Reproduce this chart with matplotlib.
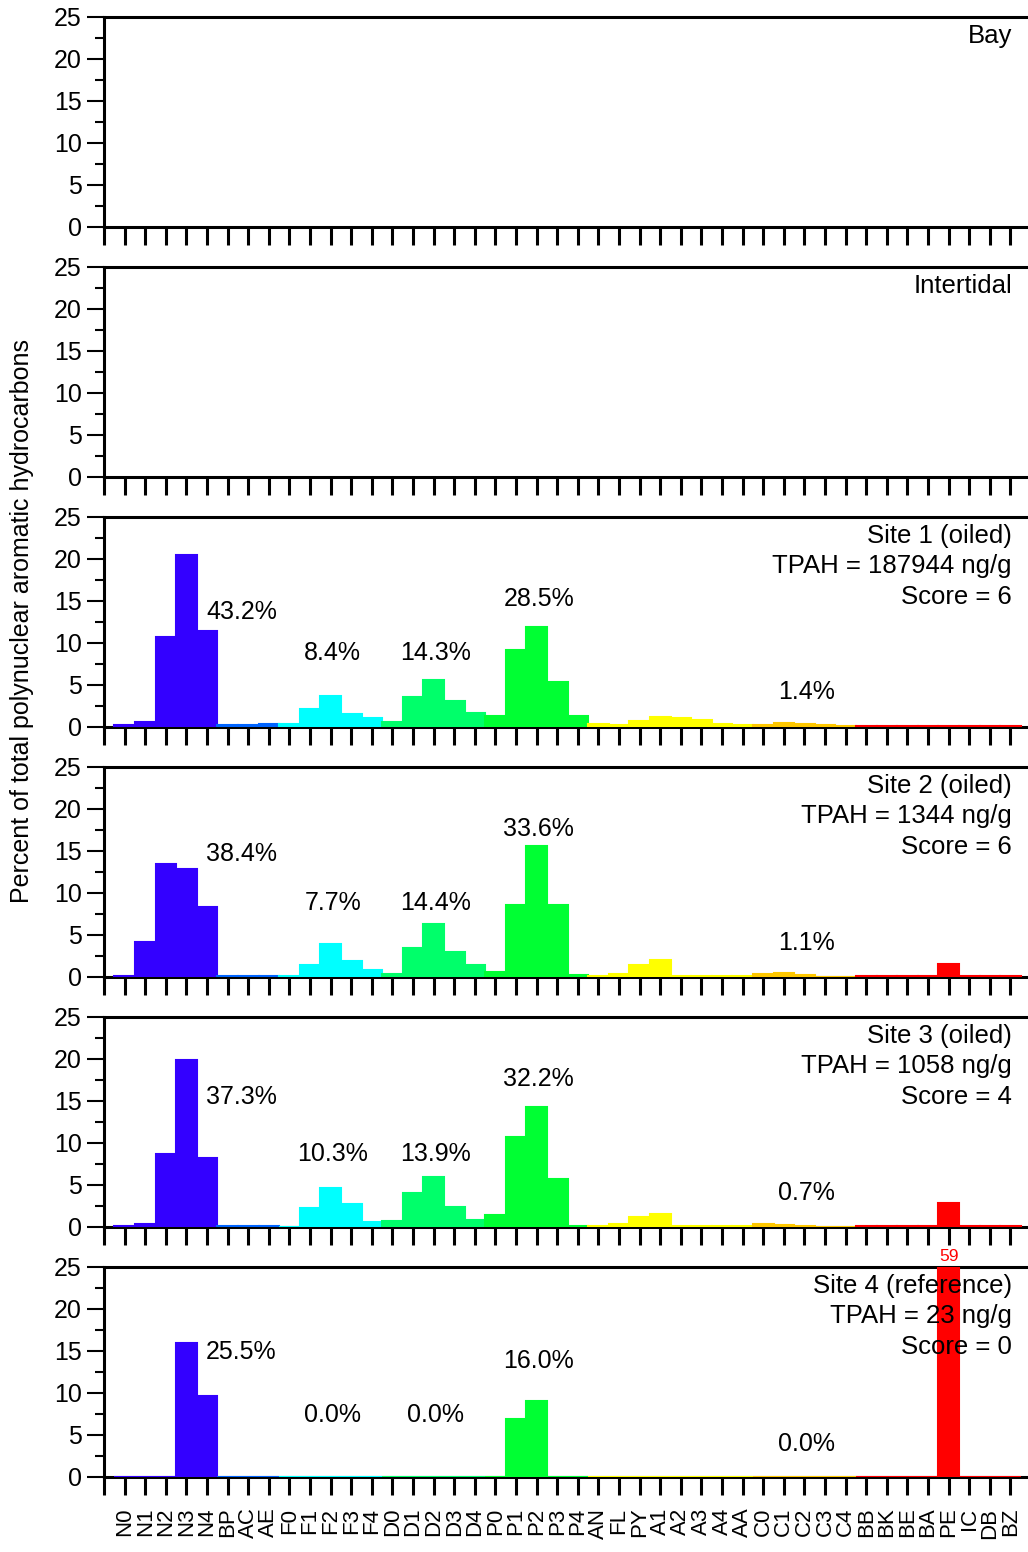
import numpy as np
import matplotlib
matplotlib.use("Agg")
import matplotlib.pyplot as plt

plt.rcParams['font.family'] = ['Liberation Sans', 'DejaVu Sans']

# PAH compound codes along the x axis
compounds = ["N0", "N1", "N2", "N3", "N4", "BP", "AC", "AE",
             "F0", "F1", "F2", "F3", "F4",
             "D0", "D1", "D2", "D3", "D4",
             "P0", "P1", "P2", "P3", "P4",
             "AN", "FL", "PY", "A1", "A2", "A3", "A4", "AA",
             "C0", "C1", "C2", "C3", "C4",
             "BB", "BK", "BE", "BA", "PE", "IC", "DB", "BZ"]

# colour group of each compound
groups = ["N"] * 5 + ["B"] * 3 + ["F"] * 5 + ["D"] * 5 + ["P"] * 5 + \
         ["A"] * 8 + ["C"] * 5 + ["H"] * 8
group_colors = {"N": "#3300ff", "B": "#0064ff", "F": "#00ffff", "D": "#00ff6a",
                "P": "#00ff33", "A": "#ffff00", "C": "#ffc800", "H": "#ff0000"}

# percent of total PAH per compound
site1 = [0.2, 0.6, 10.7, 20.5, 11.4, 0.2, 0.2, 0.3,
         0.4, 2.1, 3.7, 1.6, 1.1,
         0.6, 3.6, 5.6, 3.1, 1.7,
         1.3, 9.2, 11.9, 5.3, 1.3,
         0.3, 0.2, 0.7, 1.2, 1.1, 0.8, 0.4, 0.2,
         0.25, 0.5, 0.4, 0.25, 0.1,
         0.1, 0.1, 0.1, 0.1, 0.1, 0.1, 0.1, 0.1]
site2 = [0.1, 4.2, 13.5, 12.8, 8.3, 0.1, 0.1, 0.1,
         0.1, 1.4, 3.9, 1.9, 0.8,
         0.3, 3.4, 6.3, 3.0, 1.4,
         0.6, 8.6, 15.6, 8.6, 0.2,
         0.1, 0.4, 1.4, 2.0, 0.1, 0.1, 0.1, 0.1,
         0.35, 0.45, 0.2, 0.05, 0.05,
         0.1, 0.1, 0.1, 0.1, 1.5, 0.1, 0.1, 0.1]
site3 = [0.1, 0.4, 8.7, 19.9, 8.2, 0.1, 0.1, 0.1,
         0.05, 2.3, 4.7, 2.7, 0.55,
         0.7, 4.1, 5.9, 2.4, 0.8,
         1.4, 10.7, 14.3, 5.7, 0.1,
         0.1, 0.4, 1.2, 1.5, 0.1, 0.1, 0.1, 0.1,
         0.3, 0.25, 0.1, 0.05, 0.0,
         0.1, 0.1, 0.1, 0.1, 2.9, 0.1, 0.1, 0.1]
site4 = [0.0, 0.0, 0.0, 15.9, 9.6, 0.0, 0.0, 0.0,
         0.0, 0.0, 0.0, 0.0, 0.0,
         0.0, 0.0, 0.0, 0.0, 0.0,
         0.0, 6.9, 9.1, 0.0, 0.0,
         0.0, 0.0, 0.0, 0.0, 0.0, 0.0, 0.0, 0.0,
         0.0, 0.0, 0.0, 0.0, 0.0,
         0.0, 0.0, 0.0, 0.0, 59.0, 0.0, 0.0, 0.0]

panel_data = [None, None, site1, site2, site3, site4]
panel_titles = [["Bay"], ["Intertidal"],
                ["Site 1 (oiled)", "TPAH = 187944 ng/g", "Score = 6"],
                ["Site 2 (oiled)", "TPAH = 1344 ng/g", "Score = 6"],
                ["Site 3 (oiled)", "TPAH = 1058 ng/g", "Score = 4"],
                ["Site 4 (reference)", "TPAH = 23 ng/g", "Score = 0"]]

# group percentages (N, F, D, P, C) and the height they are written at
group_pct = [None, None,
             ["43.2%", "8.4%", "14.3%", "28.5%", "1.4%"],
             ["38.4%", "7.7%", "14.4%", "33.6%", "1.1%"],
             ["37.3%", "10.3%", "13.9%", "32.2%", "0.7%"],
             ["25.5%", "0.0%", "0.0%", "16.0%", "0.0%"]]
pct_height = [None, None,
              [13.7, 8.8, 8.8, 15.2, 4.2],
              [14.6, 8.8, 8.8, 17.6, 4.0],
              [15.5, 8.7, 8.7, 17.6, 4.0],
              [14.9, 7.4, 7.4, 13.8, 3.9]]
pct_xpos = [3.95, 10.1, 15.1, 20.1, 33.1]
pct_ha = ["left", "center", "center", "center", "center"]

W, H = 1028, 1552
fig = plt.figure(figsize=(W / 100, H / 100), dpi=100)

x = np.arange(len(compounds))
colors = [group_colors[g] for g in groups]
ymax = 25

for i, data in enumerate(panel_data):
    top = 17 + 250 * i
    ax = fig.add_axes([104 / W, 1 - (top + 210) / H, 924 / W, 210 / H])

    if data is not None:
        ax.bar(x, data, width=1.0, color=colors, edgecolor=colors,
               linewidth=1.5, zorder=3)
        for txt, yy, xx, ha in zip(group_pct[i], pct_height[i], pct_xpos, pct_ha):
            ax.text(xx, yy, txt, ha=ha, va="center", fontsize=18)
        # values running off the top of the axis
        for xi, v in zip(x, data):
            if v > ymax:
                ax.text(xi, ymax + 0.4, "%d" % round(v), color="red",
                        ha="center", va="bottom", fontsize=12.5, clip_on=False)

    # panel title, right aligned near the right edge
    for j, line in enumerate(panel_titles[i]):
        ax.text((1012 - 104) / 924, 1 - (19 + 30.5 * j) / 210, line,
                transform=ax.transAxes, ha="right", va="center", fontsize=18.5)

    ax.set_xlim(-1, 43.85)
    ax.set_ylim(0, ymax)
    ax.set_yticks(np.arange(0, 26, 5))
    ax.set_yticks(np.arange(2.5, 25, 5), minor=True)
    ax.set_xticks(np.arange(-1, len(compounds)))
    if i == len(panel_data) - 1:
        ax.set_xticklabels([""] + compounds, rotation=90, fontsize=16)
    else:
        ax.set_xticklabels([])

    ax.tick_params(axis="y", which="major", direction="out", length=12,
                   width=1.5, labelsize=18, pad=4)
    ax.tick_params(axis="y", which="minor", direction="out", length=6.5, width=1.5)
    ax.tick_params(axis="x", direction="out", length=13, width=2.2, pad=9)

    ax.spines["right"].set_visible(False)
    for s in ["top", "left", "bottom"]:
        ax.spines[s].set_linewidth(2.2)
        ax.spines[s].set_color("black")

fig.text(22 / W, 1 - 621 / H, "Percent of total polynuclear aromatic hydrocarbons",
         rotation=90, ha="center", va="center", fontsize=18)

fig.savefig("out.png", dpi=100)
